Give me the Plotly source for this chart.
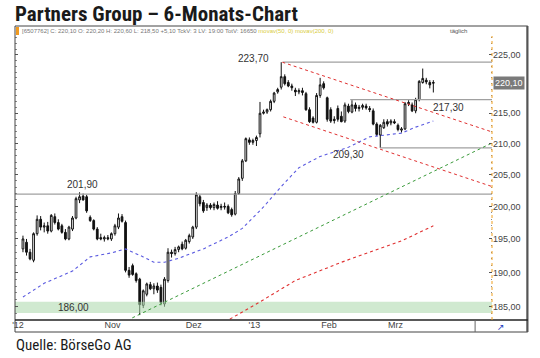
import math
import plotly.graph_objects as go

# ---------------- data ----------------
day_index = list(range(117))
opens = [193.5, 194.5, 193.0, 191.8, 195.8, 198.0, 196.8, 197.0, 196.2, 198.4,
         197.5, 197.0, 196.0, 195.0, 196.5, 198.2, 201.0, 201.6, 201.5, 198.3,
         197.8, 196.5, 195.2, 195.0, 195.2, 195.0, 195.8, 196.8, 198.4, 197.5,
         190.3, 191.0, 189.8, 189.0, 185.2, 186.8, 188.2, 187.6, 188.0, 187.8,
         185.4, 188.8, 193.0, 192.8, 193.4, 194.2, 193.6, 194.6, 195.3, 196.8,
         201.5, 200.6, 199.8, 200.2, 199.8, 200.2, 199.8, 200.0, 200.0, 199.5,
         198.8, 202.0, 204.4, 207.2, 210.6, 210.2, 210.5, 211.6, 215.0, 215.2,
         215.6, 217.0, 218.6, 219.4, 221.2, 220.2, 219.6, 218.9, 218.6, 218.8,
         218.3, 215.6, 214.2, 213.5, 218.0, 220.0, 217.6, 215.6, 214.0, 215.8,
         214.5, 213.7, 216.2, 215.2, 216.4, 215.8, 216.0, 216.2, 215.8, 215.4,
         213.2, 211.4, 212.6, 213.6, 213.4, 213.6, 213.0, 212.2, 212.4, 216.6,
         216.4, 215.4, 217.3, 220.2, 220.6, 220.2, 220.2]
highs = [195.5, 195.0, 193.5, 196.0, 198.6, 198.5, 197.5, 197.6, 198.8, 198.9,
         198.0, 197.3, 196.5, 197.0, 198.5, 201.5, 202.2, 202.0, 201.8, 198.6,
         198.0, 196.8, 195.8, 195.5, 195.6, 196.0, 197.3, 198.9, 198.8, 197.8,
         190.8, 191.3, 190.0, 189.2, 187.5, 188.5, 188.6, 188.4, 188.5, 188.2,
         189.3, 193.6, 193.4, 193.8, 194.0, 194.6, 195.0, 195.8, 197.0, 202.2,
         201.8, 201.0, 200.5, 200.5, 200.6, 200.8, 200.4, 200.6, 200.3, 199.8,
         202.4, 204.6, 207.5, 211.0, 211.0, 210.8, 211.3, 216.9, 215.6, 215.8,
         217.3, 218.6, 219.3, 223.7, 221.6, 220.6, 220.0, 219.3, 219.2, 219.3,
         218.6, 216.0, 214.5, 218.4, 221.0, 220.4, 217.8, 216.0, 214.5, 216.3,
         215.3, 216.8, 216.6, 217.2, 216.8, 216.4, 216.6, 216.6, 216.2, 215.8,
         213.5, 213.2, 214.0, 214.0, 214.0, 214.0, 213.3, 212.7, 216.9, 217.2,
         216.8, 217.6, 220.6, 222.6, 221.0, 220.6, 220.6]
lows = [193.0, 192.5, 191.8, 191.5, 195.5, 196.3, 196.0, 195.8, 196.0, 197.2,
        196.3, 195.8, 194.8, 194.8, 196.2, 198.0, 200.5, 200.9, 199.0, 197.6,
        196.3, 194.8, 194.8, 194.6, 194.8, 194.7, 195.5, 196.5, 197.5, 190.0,
        189.2, 189.5, 188.5, 183.8, 184.8, 186.5, 187.4, 186.8, 187.0, 185.2,
        185.0, 188.5, 192.2, 192.5, 193.0, 193.3, 193.4, 194.3, 195.0, 196.5,
        200.0, 199.0, 199.3, 199.5, 199.4, 199.5, 199.4, 199.5, 198.8, 198.4,
        198.6, 201.8, 204.0, 207.0, 209.8, 209.8, 209.6, 211.0, 214.8, 214.9,
        215.3, 216.7, 218.3, 219.0, 219.7, 219.4, 218.8, 217.9, 218.2, 218.0,
        215.4, 213.4, 213.3, 213.3, 217.6, 219.0, 213.6, 213.4, 213.3, 213.6,
        213.5, 213.4, 215.0, 215.0, 215.3, 215.3, 215.6, 215.6, 215.2, 213.0,
        211.2, 209.3, 212.4, 212.8, 213.0, 213.2, 212.0, 211.8, 212.2, 216.2,
        215.2, 215.0, 217.0, 220.0, 219.9, 219.2, 218.5]
closes = [195.0, 193.0, 192.0, 195.8, 198.0, 196.8, 197.0, 196.2, 198.6, 197.5,
          196.5, 196.0, 195.0, 196.8, 198.2, 201.2, 201.5, 201.0, 199.3, 197.8,
          196.5, 195.0, 195.0, 195.2, 195.0, 195.8, 197.0, 198.2, 197.7, 190.3,
          189.6, 189.7, 188.8, 185.3, 187.3, 188.3, 187.6, 188.0, 187.4, 185.6,
          189.0, 193.0, 192.8, 193.4, 193.8, 193.5, 194.8, 195.5, 196.8, 201.8,
          200.4, 199.3, 200.2, 199.8, 200.3, 199.7, 200.0, 199.9, 199.0, 198.7,
          202.0, 204.3, 207.2, 210.8, 210.2, 210.5, 211.0, 215.0, 215.2, 215.6,
          217.0, 218.4, 219.0, 221.2, 220.0, 219.6, 219.3, 218.6, 218.8, 218.5,
          215.6, 213.6, 213.5, 218.0, 219.8, 219.3, 214.0, 213.7, 213.8, 214.0,
          213.6, 216.4, 215.3, 216.4, 215.8, 216.0, 216.3, 215.9, 215.6, 213.2,
          211.5, 213.0, 213.5, 213.2, 213.7, 213.4, 212.3, 212.4, 216.6, 216.8,
          215.4, 217.3, 220.4, 220.9, 220.3, 219.8, 220.1]

# moving averages
ma50_x = [0, 6, 14, 19, 25, 29, 34, 37, 40, 44, 51, 53, 58, 62, 65, 68, 73, 78,
          81, 84, 92, 98, 101, 107, 111, 116]
ma50_y = [186.4, 188.4, 190.2, 192.3, 192.9, 193.5, 192.3, 191.5, 191.5, 192.1,
          193.5, 194.0, 195.3, 196.6, 198.2, 199.9, 203.1, 206.1, 207.0, 207.9,
          209.4, 211.1, 211.3, 211.7, 212.7, 213.7]
ma200_x = [57, 67, 77, 90, 107, 116]
ma200_y = [182.8, 185.7, 188.8, 191.5, 194.7, 197.0]

# trend lines (start/end index, start/end price)
green_trend = dict(x=[30.9, 132.6], y=[183.4, 210.1])
channel_top = dict(x=[73.3, 132.6], y=[223.7, 211.9])
channel_bottom = dict(x=[73.6, 132.6], y=[214.4, 203.1])

# marked levels
levels = [223.70, 217.30, 209.30, 201.90]
level_start = [73.5, 92.5, 101.0, -2.25]
level_labels = ["223,70", "217,30", "209,30", "201,90"]
zone_low, zone_high = 184.1, 185.7
zone_label = "186,00"

last_price = 220.10
last_label = "220,10"

y_ticks = [185, 190, 195, 200, 205, 210, 215, 220, 225]
y_ticktext = ["185,00", "190,00", "195,00", "200,00", "205,00", "210,00",
              "215,00", "", "225,00"]
x_tickpos = [-1.4, 25.3, 48.3, 65.4, 86.5, 105.3]
x_ticktext = ["'12", "Nov", "Dez", "'13", "Feb", "Mrz"]

X_MIN, X_MAX = -2.25, 132.58
Y_MIN, Y_MAX = 183.1, 228.3

# ---------------- figure ----------------
fig = go.Figure()

fig.add_trace(go.Scatter(
    x=[X_MIN, X_MAX, X_MAX, X_MIN, X_MIN],
    y=[zone_low, zone_low, zone_high, zone_high, zone_low],
    fill="toself", fillcolor="rgba(170,215,170,0.55)", line=dict(width=0),
    mode="lines", hoverinfo="skip", showlegend=False))

for lv, xs in zip(levels, level_start):
    fig.add_trace(go.Scatter(x=[xs, X_MAX], y=[lv, lv], mode="lines",
                             line=dict(color="#a0a0a0", width=1.2),
                             hoverinfo="skip", showlegend=False))

fig.add_trace(go.Scatter(x=green_trend["x"], y=green_trend["y"], mode="lines",
                         line=dict(color="#3a9a3a", width=1, dash="dot"),
                         showlegend=False, hoverinfo="skip"))
for ch in (channel_top, channel_bottom):
    fig.add_trace(go.Scatter(x=ch["x"], y=ch["y"], mode="lines",
                             line=dict(color="#e03030", width=1, dash="dot"),
                             showlegend=False, hoverinfo="skip"))

fig.add_trace(go.Scatter(x=ma50_x, y=ma50_y, mode="lines",
                         line=dict(color="#5a5ae0", width=1.1, dash="dot"),
                         showlegend=False, hoverinfo="skip"))
fig.add_trace(go.Scatter(x=ma200_x, y=ma200_y, mode="lines",
                         line=dict(color="#e03030", width=1.1, dash="dot"),
                         showlegend=False, hoverinfo="skip"))

fig.add_trace(go.Candlestick(
    x=day_index, open=opens, high=highs, low=lows, close=closes,
    increasing=dict(line=dict(color="#111111", width=1), fillcolor="#ffffff"),
    decreasing=dict(line=dict(color="#111111", width=1), fillcolor="#111111"),
    whiskerwidth=0, showlegend=False))

# ---------------- layout ----------------
def px_x(p):
    return (p - 12) / 480.0

def px_y(p):
    return (320 - p) / 284.0

shapes = [
    dict(type="rect", xref="paper", yref="paper", x0=0, x1=px_x(528),
         y0=px_y(332), y1=px_y(26), line=dict(color="#444444", width=1)),
    dict(type="line", xref="paper", yref="paper", x0=px_x(527.5), x1=px_x(527.5),
         y0=px_y(332), y1=px_y(26), line=dict(color="#555555", width=2)),
    dict(type="line", xref="paper", yref="paper", x0=0, x1=px_x(528),
         y0=0, y1=0, line=dict(color="#222222", width=1.5)),
    dict(type="line", xref="paper", yref="paper", x0=px_x(475), x1=px_x(475),
         y0=px_y(332), y1=0, line=dict(color="#666666", width=1)),
    dict(type="line", xref="paper", yref="paper", x0=1, x1=1, y0=0, y1=1,
         line=dict(color="#f0a020", width=1, dash="dot")),
    dict(type="rect", xref="paper", yref="paper", x0=px_x(13), x1=px_x(16),
         y0=px_y(35), y1=px_y(27), fillcolor="#f09a20", line=dict(width=0)),
]

narrow = "Liberation Sans Narrow, Arial Narrow, Roboto Condensed, sans-serif"
lab_font = dict(family="Liberation Sans, Arial, sans-serif", size=10, color="#333333")
annotations = [
    dict(text="<b>Partners Group – 6-Monats-Chart</b>", xref="paper", yref="paper",
         x=-0.004, y=px_y(14), xanchor="left", yanchor="middle", showarrow=False,
         font=dict(family=narrow, size=21, color="#1a1a1a")),
    dict(text="Quelle: BörseGo AG", xref="paper", yref="paper",
         x=-0.002, y=px_y(345), xanchor="left", yanchor="middle", showarrow=False,
         font=dict(family=narrow, size=15, color="#1a1a1a")),
    dict(text=("[6507762] C: 220,10 O: 220,20 H: 220,60 L: 218,50 +5,10 TckV: 3 "
               "LV: 19:00 TotV: 16650 "
               "<span style='color:#d8cc40'>movav(50, 0) movav(200, 0)</span>"),
         xref="paper", yref="paper", x=px_x(17), y=px_y(31), xanchor="left",
         yanchor="middle", showarrow=False,
         font=dict(family="Liberation Sans, Arial, sans-serif", size=6, color="#777777")),
    dict(text="täglich", xref="paper", yref="paper", x=px_x(448), y=px_y(31),
         xanchor="left", yanchor="middle", showarrow=False,
         font=dict(family="Liberation Sans, Arial, sans-serif", size=6, color="#555555")),
    dict(text="↗", xref="paper", yref="paper", x=px_x(501), y=px_y(327),
         xanchor="center", yanchor="middle", showarrow=False,
         font=dict(family="DejaVu Sans, sans-serif", size=9, color="#2040c0")),
    dict(text=last_label, xref="paper", yref="y", x=1, xshift=1, y=math.log10(last_price),
         xanchor="left", yanchor="middle", showarrow=False, bgcolor="#7a7a7a",
         borderpad=1, font=dict(family="Liberation Sans, Arial, sans-serif",
                                size=9, color="#ffffff")),
]

label_pos = [(65.2, 4), (120.2, -8), (92.1, -7), (16.9, 10)]
for lv, txt, (lx, ys) in zip(levels, level_labels, label_pos):
    annotations.append(dict(text=txt, x=lx, y=math.log10(lv), yshift=ys,
                            xanchor="center", yanchor="middle", showarrow=False,
                            font=lab_font))
annotations.append(dict(text=zone_label, x=14.3, y=math.log10((zone_low + zone_high) / 2),
                        xanchor="center", yanchor="middle", showarrow=False,
                        font=lab_font))

fig.update_layout(
    width=540, height=358,
    margin=dict(l=12, r=48, t=36, b=38),
    paper_bgcolor="#ffffff", plot_bgcolor="#ffffff",
    showlegend=False, hovermode=False,
    shapes=shapes, annotations=annotations,
    xaxis=dict(range=[X_MIN, X_MAX], rangeslider=dict(visible=False),
               tickmode="array", tickvals=x_tickpos, ticktext=x_ticktext,
               ticks="", showgrid=False, zeroline=False, showline=False,
               ticklabelstandoff=-2,
               tickfont=dict(family="Liberation Sans, Arial, sans-serif", size=9,
                             color="#444444")),
    yaxis=dict(type="log", side="right",
               range=[math.log10(Y_MIN), math.log10(Y_MAX)],
               tickmode="array", tickvals=y_ticks, ticktext=y_ticktext,
               ticks="inside", ticklen=3, tickcolor="#555555", mirror="ticks",
               showline=False, showgrid=False, zeroline=False,
               minor=dict(tickvals=[v for v in range(184, 229)], ticks="inside",
                          ticklen=1.5, tickcolor="#888888"),
               tickfont=dict(family="Liberation Sans, Arial, sans-serif", size=9,
                             color="#444444")),
)

fig.write_html("out.html", config={"displayModeBar": False, "staticPlot": True},
               post_script="document.body.style.margin='0px';document.body.style.overflow='hidden';")
